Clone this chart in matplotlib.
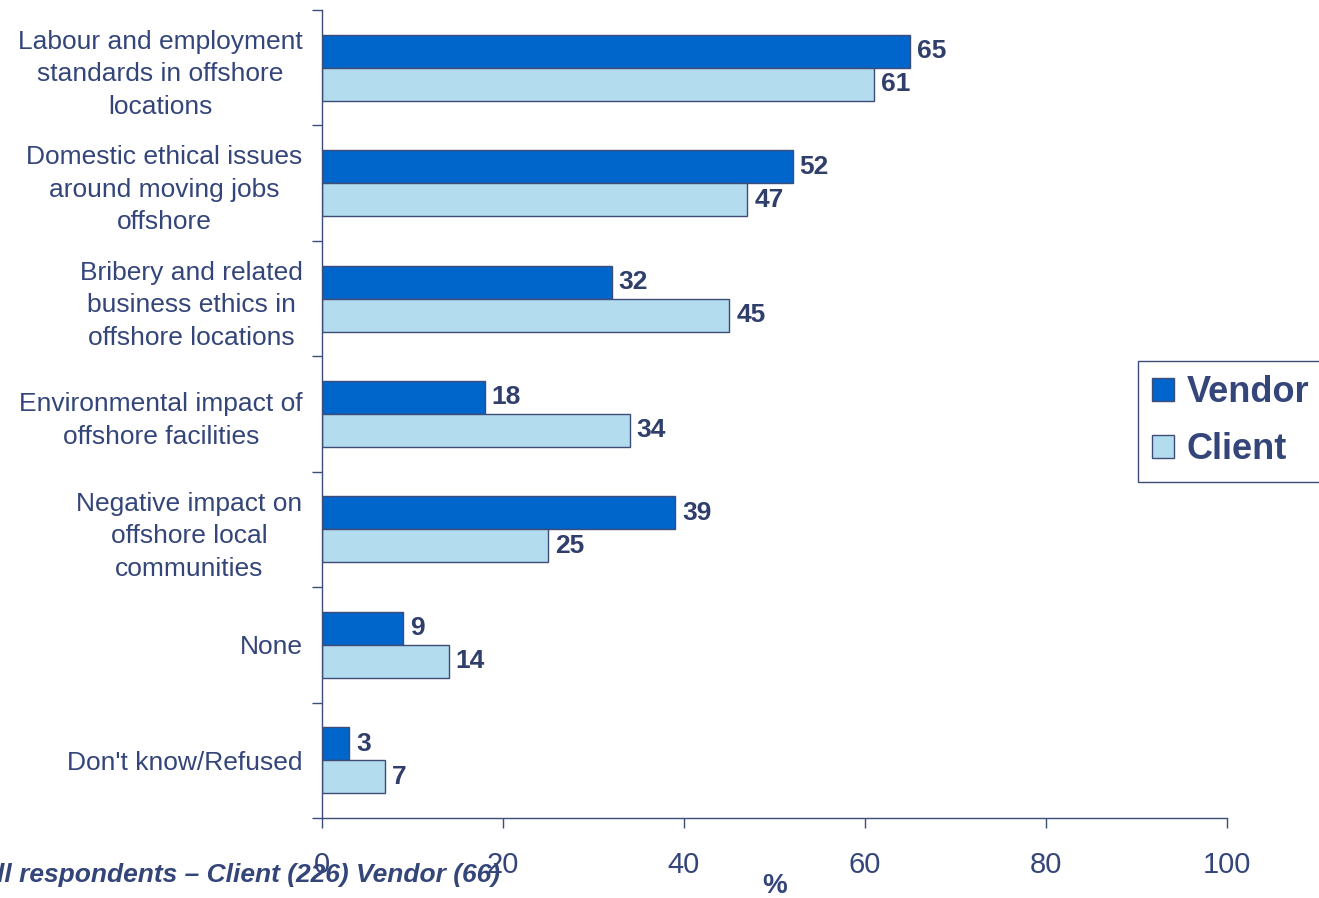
#!/usr/bin/env python3
"""
Horizontal grouped bar chart: ethical concerns about offshoring,
vendor vs client respondents (% of respondents).
"""

import matplotlib

matplotlib.use("Agg")
import matplotlib.pyplot as plt
import numpy as np

plt.rcParams["font.family"] = ["Liberation Sans", "DejaVu Sans"]

CATEGORIES = [
    "Labour and employment\nstandards in offshore\nlocations",
    "Domestic ethical issues\naround moving jobs\noffshore",
    "Bribery and related\nbusiness ethics in\noffshore locations",
    "Environmental impact of\noffshore facilities",
    "Negative impact on\noffshore local\ncommunities",
    "None",
    "Don't know/Refused",
]
VENDOR = [65, 52, 32, 18, 39, 9, 3]
CLIENT = [61, 47, 45, 34, 25, 14, 7]
X_TICKS = [0, 20, 40, 60, 80, 100]

VENDOR_COLOR = "#0066CC"
CLIENT_COLOR = "#B3DCEE"
EDGE_COLOR = "#3E4C78"
TEXT_COLOR = "#34457A"
VALUE_COLOR = "#2F3E6B"

BAR_H = 0.286


def main() -> int:
    fig = plt.figure(figsize=(13.19, 8.98), dpi=100)
    ax = fig.add_axes([0.2441, 0.0891, 0.6861, 0.8998])

    y = np.arange(len(CATEGORIES))

    ax.barh(y - BAR_H / 2, VENDOR, height=BAR_H, color=VENDOR_COLOR,
            edgecolor=EDGE_COLOR, linewidth=1.0, label="Vendor")
    ax.barh(y + BAR_H / 2, CLIENT, height=BAR_H, color=CLIENT_COLOR,
            edgecolor=EDGE_COLOR, linewidth=1.0, label="Client")

    # value labels just past the bar ends
    for yi, v in zip(y - BAR_H / 2, VENDOR):
        ax.annotate(str(v), (v, yi), xytext=(7, 0), textcoords="offset pixels",
                    ha="left", va="center", fontsize=19, fontweight="bold",
                    color=VALUE_COLOR)
    for yi, v in zip(y + BAR_H / 2, CLIENT):
        ax.annotate(str(v), (v, yi), xytext=(7, 0), textcoords="offset pixels",
                    ha="left", va="center", fontsize=19, fontweight="bold",
                    color=VALUE_COLOR)

    ax.set_xlim(0, 100)
    ax.set_ylim(len(CATEGORIES) - 0.5, -0.5)

    # category labels on major ticks, tick marks at group boundaries
    ax.set_yticks(y)
    ax.set_yticklabels(CATEGORIES, fontsize=19, color=TEXT_COLOR,
                       multialignment="center", linespacing=1.45)
    ax.set_yticks(np.arange(len(CATEGORIES) + 1) - 0.5, minor=True)
    ax.tick_params(axis="y", which="major", length=0, pad=14)
    ax.tick_params(axis="y", which="minor", length=7, width=1,
                   color=EDGE_COLOR, direction="out")

    ax.set_xticks(X_TICKS)
    ax.set_xticklabels([str(t) for t in X_TICKS], fontsize=21,
                       color=TEXT_COLOR)
    ax.tick_params(axis="x", length=7, width=1, color=EDGE_COLOR,
                   direction="out", pad=17)

    for side in ("top", "right"):
        ax.spines[side].set_visible(False)
    for side in ("left", "bottom"):
        ax.spines[side].set_color(EDGE_COLOR)
        ax.spines[side].set_linewidth(1.0)

    fig.text(775 / 1319, 1 - 886 / 898, "%", ha="center", va="center",
             fontsize=20, fontweight="bold", color=TEXT_COLOR)

    fig.text(500 / 1319, 1 - 875 / 898,
             "Base: All respondents \u2013 Client (226) Vendor (66)",
             ha="right", va="center", fontsize=19, fontweight="bold",
             fontstyle="italic", color=TEXT_COLOR)

    leg = fig.legend(loc="upper left", bbox_to_anchor=(1138 / 1319, 1 - 361 / 898),
                     borderaxespad=0, frameon=True, fancybox=False, framealpha=1,
                     edgecolor=EDGE_COLOR, handlelength=0.6, handleheight=0.6,
                     handletextpad=0.35, labelspacing=0.6, borderpad=0.4,
                     prop={"size": 26, "weight": "bold"})
    leg.get_frame().set_linewidth(1.0)
    for txt in leg.get_texts():
        txt.set_color(TEXT_COLOR)

    fig.savefig("out.png", dpi=100)
    plt.close(fig)
    return 0


if __name__ == "__main__":
    raise SystemExit(main())
